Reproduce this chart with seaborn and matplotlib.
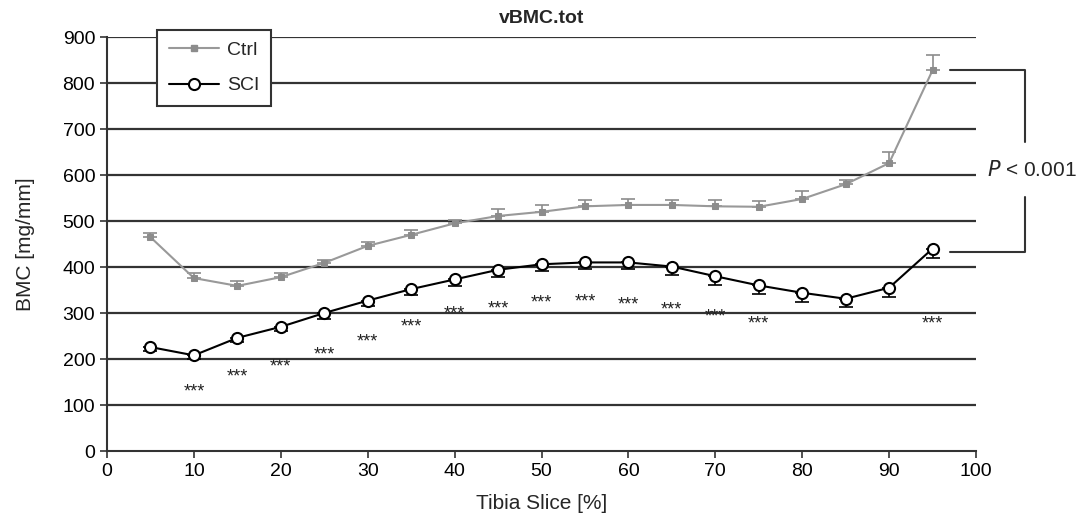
import numpy as np
import pandas as pd
import matplotlib
matplotlib.use("Agg")
import matplotlib.pyplot as plt
import seaborn as sns
from matplotlib.lines import Line2D

# data
slices = [5, 10, 15, 20, 25, 30, 35, 40, 45, 50, 55, 60, 65, 70, 75, 80, 85, 90, 95]
ctrl = [465, 376, 359, 378, 409, 446, 470, 495, 511, 520, 532, 535, 535, 532, 531, 548, 580, 626, 828]
ctrl_se = [10, 12, 10, 10, 7, 8, 10, 7, 15, 15, 14, 13, 11, 13, 13, 18, 10, 25, 32]
sci = [226, 208, 246, 270, 300, 327, 352, 373, 394, 406, 410, 410, 401, 380, 360, 344, 331, 355, 440]
sci_se = [8, 8, 8, 10, 12, 12, 12, 15, 15, 15, 15, 15, 18, 18, 18, 20, 18, 20, 20]
star_x = [10, 15, 20, 25, 30, 35, 40, 45, 50, 55, 60, 65, 70, 75, 95]
star_y = [128, 161, 183, 209, 237, 270, 297, 308, 322, 324, 318, 306, 291, 276, 276]

df = pd.DataFrame({
    "slice": slices * 2,
    "bmc": ctrl + sci,
    "group": ["Ctrl"] * len(slices) + ["SCI"] * len(slices),
})

sns.set_theme(style="white")
plt.rcParams["font.family"] = ["Liberation Sans", "DejaVu Sans"]

fig = plt.figure(figsize=(10.84, 5.22), dpi=100)
ax = fig.add_axes([0.0987, 0.136, 0.8017, 0.793])

# grid lines
for yv in range(100, 1000, 100):
    ax.axhline(yv, color="#333333", lw=1.6, zorder=0)

# error bars (one-sided)
ax.errorbar(slices, ctrl, yerr=[np.zeros(len(ctrl)), ctrl_se], fmt="none",
            ecolor="#8c8c8c", elinewidth=1.2, capsize=5, capthick=1.2, zorder=2)
ax.errorbar(slices, sci, yerr=[sci_se, np.zeros(len(sci))], fmt="none",
            ecolor="black", elinewidth=1.2, capsize=5, capthick=1.2, zorder=2)

sns.lineplot(data=df, x="slice", y="bmc", hue="group", style="group",
             palette={"Ctrl": "#999999", "SCI": "black"},
             markers={"Ctrl": "s", "SCI": "o"}, dashes=False,
             linewidth=1.5, ax=ax, zorder=3, legend=False)
lines = ax.get_lines()
ctrl_line = lines[-2]
sci_line = lines[-1]
ctrl_line.set_markersize(5)
ctrl_line.set_markerfacecolor("#8c8c8c")
ctrl_line.set_markeredgecolor("#8c8c8c")
sci_line.set_markersize(8)
sci_line.set_markerfacecolor("white")
sci_line.set_markeredgecolor("black")
sci_line.set_markeredgewidth(1.5)

# significance stars
for sx, sy in zip(star_x, star_y):
    ax.text(sx, sy, "***", ha="center", va="center", fontsize=13, color="#222222")

# bracket for P value
ax.plot([97.0, 105.6, 105.6], [828, 828, 672], color="#333333", lw=1.5, clip_on=False)
ax.plot([97.0, 105.6, 105.6], [433, 433, 552], color="#333333", lw=1.5, clip_on=False)
ax.text(106.4, 612, r"$P$ < 0.001", ha="center", va="center", fontsize=15, clip_on=False)

ax.set_xlim(0, 100)
ax.set_ylim(0, 900)
ax.set_xticks(range(0, 101, 10))
ax.set_yticks(range(0, 901, 100))
ax.tick_params(axis="both", direction="out", length=5, width=1.2, colors="#333333",
               labelsize=14, labelcolor="black", bottom=True, left=True)
for side in ["top", "right"]:
    ax.spines[side].set_visible(False)
for side in ["left", "bottom"]:
    ax.spines[side].set_color("#333333")
    ax.spines[side].set_linewidth(1.5)

ax.set_xlabel("Tibia Slice [%]", fontsize=15, labelpad=10)
ax.set_ylabel("BMC [mg/mm]", fontsize=15, labelpad=20)
ax.set_title("vBMC.tot", fontsize=14, fontweight="bold", pad=10)

# legend
handles = [
    Line2D([], [], color="#999999", marker="s", markersize=5, markerfacecolor="#8c8c8c",
           markeredgecolor="#8c8c8c", lw=1.5),
    Line2D([], [], color="black", marker="o", markersize=8, markerfacecolor="white",
           markeredgewidth=1.5, lw=1.5),
]
leg = ax.legend(handles, ["Ctrl", "SCI"], loc="upper left", bbox_to_anchor=(0.0575, 1.017),
                borderaxespad=0, frameon=True, fancybox=False, fontsize=14, handlelength=2.6,
                borderpad=0.6, labelspacing=0.9, handletextpad=0.4, framealpha=1)
leg.get_frame().set_edgecolor("#333333")
leg.get_frame().set_linewidth(1.5)

fig.savefig("out.png", dpi=100)
